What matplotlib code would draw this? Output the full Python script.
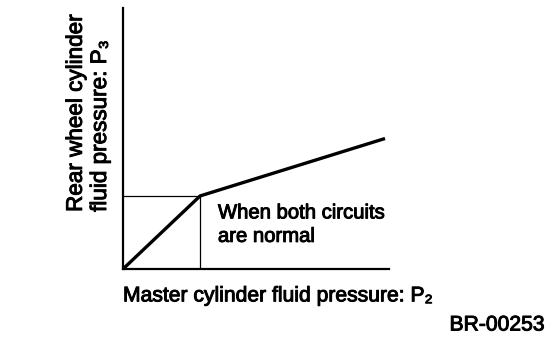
import matplotlib
matplotlib.use("Agg")
import matplotlib.pyplot as plt
import matplotlib.patheffects as pe

plt.rcParams['font.family'] = ['Liberation Sans', 'DejaVu Sans']

# data (relative units)
p2 = [0, 29, 98.5]
p3 = [0, 28, 50]
knee_x = p2[1]
knee_y = p3[1]

thick = [pe.withStroke(linewidth=0.7, foreground='black')]

fig = plt.figure(figsize=(5.6, 3.42), dpi=100)
ax = fig.add_axes([123/560, 73/342, 266/560, 261/342])
ax.set_xlim(0, 100)
ax.set_ylim(0, 100)

ax.plot(p2, p3, color='black', lw=2.4, solid_capstyle='butt', clip_on=False)
ax.plot([0, knee_x], [knee_y, knee_y], color='black', lw=0.9)
ax.plot([knee_x, knee_x], [0, knee_y], color='black', lw=0.9)

for s in ['top', 'right']:
    ax.spines[s].set_visible(False)
ax.spines['left'].set_linewidth(1.6)
ax.spines['bottom'].set_linewidth(1.6)
ax.set_xticks([])
ax.set_yticks([])

ax.text(35.7, 17.0, "When both circuits\nare normal", fontsize=14.6, va='center', ha='left',
        linespacing=1.3, path_effects=thick)

ax.set_xlabel("Master cylinder fluid pressure: P\u2082", fontsize=15.2,
              ha='left', va='center', path_effects=thick)
ax.xaxis.set_label_coords(0.0, -0.103)
ax.set_ylabel("Rear wheel cylinder\nfluid pressure: P\u2083", fontsize=16.2,
              ha='center', va='center', multialignment='left', linespacing=1.2,
              path_effects=thick)
ax.yaxis.set_label_coords(-0.130, 0.598)

fig.text(545/560, 1 - 325/342, "BR-00253", fontsize=15.2, ha='right', va='center',
         path_effects=thick)

fig.savefig("out.png", dpi=100)
